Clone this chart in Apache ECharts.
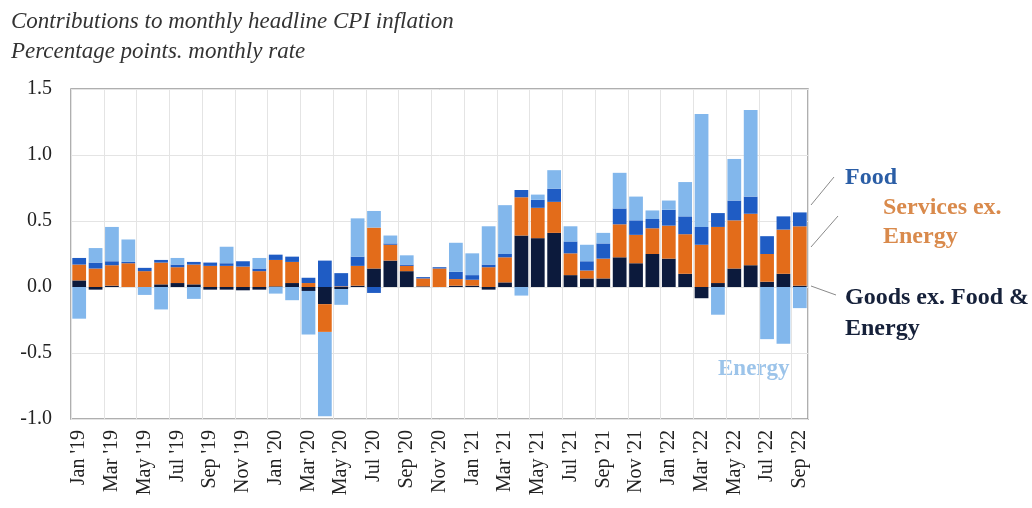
<!DOCTYPE html>
<html>
<head>
<meta charset="utf-8">
<script src="https://cdn.jsdelivr.net/npm/echarts@6/dist/echarts.min.js"></script>
<style>
  html, body { margin: 0; padding: 0; background: #fff; }
  #chart { width: 1032px; height: 508px; }
</style>
</head>
<body>
<div id="chart"></div>
<script>
// Months Jan 2019 – Sep 2022
const months = [
  "Jan '19","Feb '19","Mar '19","Apr '19","May '19","Jun '19","Jul '19","Aug '19","Sep '19","Oct '19","Nov '19","Dec '19",
  "Jan '20","Feb '20","Mar '20","Apr '20","May '20","Jun '20","Jul '20","Aug '20","Sep '20","Oct '20","Nov '20","Dec '20",
  "Jan '21","Feb '21","Mar '21","Apr '21","May '21","Jun '21","Jul '21","Aug '21","Sep '21","Oct '21","Nov '21","Dec '21",
  "Jan '22","Feb '22","Mar '22","Apr '22","May '22","Jun '22","Jul '22","Aug '22","Sep '22"
];

// Contributions, percentage points
const goodsExFoodEnergy = [
  0.05,-0.02,0.01,0.0,0.0,0.02,0.03,0.02,-0.02,-0.02,-0.025,-0.02,
  0.005,0.03,-0.03,-0.13,-0.015,0.01,0.14,0.2,0.12,0.005,0.0,0.01,
  0.01,-0.02,0.035,0.39,0.37,0.41,0.09,0.065,0.065,0.225,0.18,0.25,
  0.215,0.1,-0.085,0.03,0.14,0.165,0.04,0.1,0.01
];
const servicesExEnergy = [
  0.12,0.14,0.155,0.18,0.12,0.165,0.12,0.15,0.16,0.16,0.155,0.12,
  0.2,0.16,0.03,-0.21,0.005,0.15,0.31,0.12,0.04,0.06,0.14,0.05,
  0.045,0.15,0.19,0.29,0.23,0.235,0.165,0.06,0.15,0.25,0.215,0.195,
  0.25,0.3,0.32,0.425,0.365,0.39,0.21,0.335,0.45
];
const food = [
  0.05,0.045,0.03,0.01,0.025,0.02,0.02,0.02,0.025,0.02,0.04,0.02,
  0.04,0.04,0.04,0.2,0.1,0.07,-0.045,0.01,0.01,0.01,0.01,0.055,
  0.035,0.02,0.025,0.055,0.06,0.1,0.09,0.07,0.115,0.12,0.11,0.07,
  0.12,0.135,0.135,0.105,0.15,0.13,0.135,0.1,0.105
];
const energy = [
  -0.24,0.11,0.26,0.17,-0.06,-0.17,0.05,-0.09,0.0,0.125,0.0,0.08,
  -0.05,-0.1,-0.33,-0.64,-0.12,0.29,0.126,0.06,0.07,0.0,0.0,0.22,
  0.165,0.29,0.37,-0.065,0.04,0.14,0.115,0.125,0.08,0.27,0.18,0.065,
  0.07,0.26,0.855,-0.21,0.315,0.655,-0.395,-0.43,-0.16
];

const yTicks = { min: -1.0, max: 1.5, step: 0.5 };

const serif = '"Liberation Serif", "DejaVu Serif", serif';
const colors = {
  goods: '#0c1a3c',
  services: '#e36c1a',
  food: '#1f5cc4',
  energy: '#82b7ec'
};

function barSeries(name, data, color) {
  return {
    name: name,
    type: 'bar',
    stack: 'cpi',
    data: data,
    barCategoryGap: '16%',
    itemStyle: { color: color },
    emphasis: { disabled: true }
  };
}

const chart = echarts.init(document.getElementById('chart'));
chart.setOption({
  animation: false,
  backgroundColor: '#ffffff',
  grid: {
    left: 71, right: 224, top: 89, bottom: 89,
    show: true,
    borderColor: '#959595',
    borderWidth: 1.5,
    backgroundColor: 'transparent'
  },
  title: [
    {
      text: 'Contributions to monthly headline CPI inflation',
      left: 6, top: 5,
      textStyle: { fontFamily: serif, fontStyle: 'italic', fontWeight: 'normal', fontSize: 23, color: '#333' }
    },
    {
      text: 'Percentage points. monthly rate',
      left: 6, top: 35,
      textStyle: { fontFamily: serif, fontStyle: 'italic', fontWeight: 'normal', fontSize: 23, color: '#333' }
    }
  ],
  xAxis: {
    type: 'category',
    data: months,
    axisLine: { show: false },
    axisTick: { show: false },
    axisLabel: {
      interval: 1,
      rotate: 90,
      margin: 11,
      fontFamily: serif,
      fontSize: 20,
      color: '#222'
    },
    splitLine: {
      show: true,
      interval: 1,
      lineStyle: { color: '#e4e4e4', width: 1 }
    }
  },
  yAxis: {
    type: 'value',
    min: yTicks.min,
    max: yTicks.max,
    interval: yTicks.step,
    axisLine: { show: false },
    axisTick: { show: false },
    axisLabel: {
      margin: 19,
      fontFamily: serif,
      fontSize: 20,
      color: '#222',
      formatter: v => v.toFixed(1)
    },
    splitLine: { lineStyle: { color: '#e4e4e4', width: 1 } }
  },
  series: [
    barSeries('Goods ex. Food & Energy', goodsExFoodEnergy, colors.goods),
    barSeries('Services ex. Energy', servicesExEnergy, colors.services),
    barSeries('Food', food, colors.food),
    barSeries('Energy', energy, colors.energy)
  ],
  graphic: [
    // leader lines to the last bar
    { type: 'line', shape: { x1: 834, y1: 177, x2: 811, y2: 205 }, style: { stroke: '#8a8a8a', lineWidth: 1 } },
    { type: 'line', shape: { x1: 838, y1: 216, x2: 811, y2: 247 }, style: { stroke: '#8a8a8a', lineWidth: 1 } },
    { type: 'line', shape: { x1: 811, y1: 286, x2: 836, y2: 295 }, style: { stroke: '#8a8a8a', lineWidth: 1 } },
    // series labels
    { type: 'text', left: 845, top: 166,
      style: { text: 'Food', font: 'bold 24px ' + serif, fill: '#2b5ea6' } },
    { type: 'text', left: 883, top: 193,
      style: { text: 'Services ex.\nEnergy', font: 'bold 24px ' + serif, fill: '#d98a4c', lineHeight: 29 } },
    { type: 'text', left: 845, top: 282,
      style: { text: 'Goods ex. Food &\nEnergy', font: 'bold 24px ' + serif, fill: '#16213a', lineHeight: 31 } },
    { type: 'text', left: 718, top: 358,
      style: { text: 'Energy', font: 'bold 23px ' + serif, fill: '#9cc4ea' } }
  ]
});
</script>
</body>
</html>
